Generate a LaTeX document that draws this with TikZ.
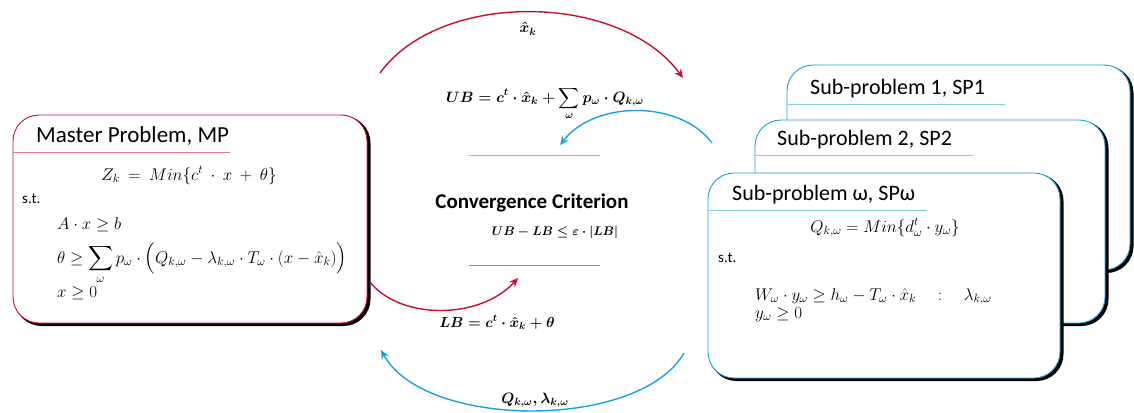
\RequirePackage{fix-cm}
\documentclass[tikz,border=0pt]{standalone}
\usepackage{amsmath,bm}
\usepackage{fontspec}
\setmainfont{Carlito}
\usetikzlibrary{arrows.meta,shadows}
\definecolor{mpred}{RGB}{200,16,46}
\definecolor{spblue}{RGB}{27,161,226}
\begin{document}
\begin{tikzpicture}[x=1pt,y=-1pt,
  probbox/.style={draw=#1, fill=white, line width=0.9pt, rounded corners=26pt,
    inner sep=0pt, general shadow={fill=black, draw=black, line width=2pt, shadow xshift=2.5pt, shadow yshift=-2pt}},
  titletext/.style={anchor=base west, inner sep=0pt, font=\fontsize{#1}{26}\selectfont},
  titletext/.default=23,
  sttext/.style={anchor=base west, inner sep=0pt, font=\fontsize{15}{17}\selectfont},
  eqn/.style={inner sep=0pt, font=\fontsize{17}{20}\selectfont},
  beqn/.style={inner sep=0pt, font=\fontsize{#1}{20}\selectfont\boldmath},
  beqn/.default=15,
  arc/.style={line width=1.4pt, -{Stealth[length=9pt,width=8pt,inset=3pt]}},
  sepline/.style={line width=1pt}
]
\useasboundingbox (0,0) rectangle (1134,412);

% Master problem
\node[probbox=mpred, minimum width=354pt, minimum height=208pt] (mp) at (190,219) {};
\draw[sepline, mpred!55] (13,152) coordinate (mpl1) -- (230,152) coordinate (mpl2);
\node[titletext] (mpt) at (36,142) {Master Problem, MP};
\node[eqn, anchor=base] (mpz) at (189,180) {$Z_k \:=\: Min\{c^t\:\cdot\:x\:+\:\theta\}$};
\node[sttext] (mpst) at (22,203) {s.t.};
\node[eqn, anchor=base west] (mpa) at (57,229) {$A\cdot x\geq b$};
\node[eqn, anchor=base west] (mpb) at (57,263) {$\displaystyle\theta\geq \sum_{\omega} p_\omega\cdot\Bigl(Q_{k,\omega}-\lambda_{k,\omega}\cdot T_\omega\cdot (x-\hat{x}_k)\Bigr)$};
\node[eqn, anchor=base west] (mpc) at (57,297) {$x\geq 0$};

% Sub-problems
\node[probbox=spblue, minimum width=343pt, minimum height=205pt] (sp1) at (958.5,167.5) {};
\draw[sepline, spblue!55] (787,104) -- (1005,104);
\node[titletext=22] (sp1t) at (810,94) {Sub-problem 1, SP1};

\node[probbox=spblue, minimum width=350pt, minimum height=203pt] (sp2) at (930,221.5) {};
\draw[sepline, spblue!55] (755,155) -- (973,155);
\node[titletext=22] (sp2t) at (777,145) {Sub-problem 2, SP2};

\node[probbox=spblue, minimum width=352pt, minimum height=205pt] (spw) at (884,275.5) {};
\draw[sepline, spblue!55] (708,210) -- (927,210);
\node[titletext=22] (spwt) at (732,200) {Sub-problem ω, SPω};
\node[eqn, anchor=base] (spq) at (885,232) {$Q_{k,\omega} = Min\{d_\omega^t\cdot y_\omega\}$};
\node[sttext] (spst) at (718,262) {s.t.};
\node[eqn, anchor=base west] (spa) at (755,300) {$W_\omega\cdot y_\omega\geq h_\omega - T_\omega\cdot\hat{x}_k\quad:\quad\lambda_{k,\omega}$};
\node[eqn, anchor=base west] (spb) at (755,318) {$y_\omega\geq 0$};

% Centre
\node[beqn=15, anchor=base] (ub) at (545,102) {$\displaystyle UB = c^t\cdot\hat{x}_k+\sum_{\omega} p_\omega\cdot Q_{k,\omega}$};
\draw[sepline, spblue!60] (469,155) coordinate (bl1) -- (600,155) coordinate (bl2);
\node[anchor=base, inner sep=0pt, font=\fontsize{21}{24}\selectfont\bfseries] (cc) at (532,208) {Convergence Criterion};
\node[beqn=12.5, anchor=base] (crit) at (555,235) {$UB-LB\leq\varepsilon\cdot|LB|$};
\draw[sepline, mpred!60] (469,265) coordinate (rl1) -- (600,265) coordinate (rl2);
\node[beqn=14.5, anchor=base] (lb) at (497,327) {$LB = c^t\cdot\hat{x}_k+\theta$};

% Arcs
\coordinate (a1s) at (380,73);
\coordinate (a1e) at (683,78);
\draw[arc, mpred] (a1s) .. controls (440,-10) and (620,-8) .. (a1e);
\node[beqn=15, anchor=base] (xk) at (528,33) {$\hat{x}_k$};

\coordinate (a2s) at (712,143);
\coordinate (a2e) at (560,145);
\draw[arc, spblue] (a2s) .. controls (680,100) and (595,100) .. (a2e);

\coordinate (a3s) at (370,282);
\coordinate (a3e) at (518,278);
\draw[arc, mpred] (a3s) .. controls (400,320) and (480,320) .. (a3e);

\coordinate (a4s) at (684,353);
\coordinate (a4e) at (381,350);
\draw[arc, spblue] (a4s) .. controls (640,430) and (425,430) .. (a4e);
\node[beqn=15, anchor=base] (ql) at (535,403) {$Q_{k,\omega},\lambda_{k,\omega}$};
\end{tikzpicture}
\end{document}
